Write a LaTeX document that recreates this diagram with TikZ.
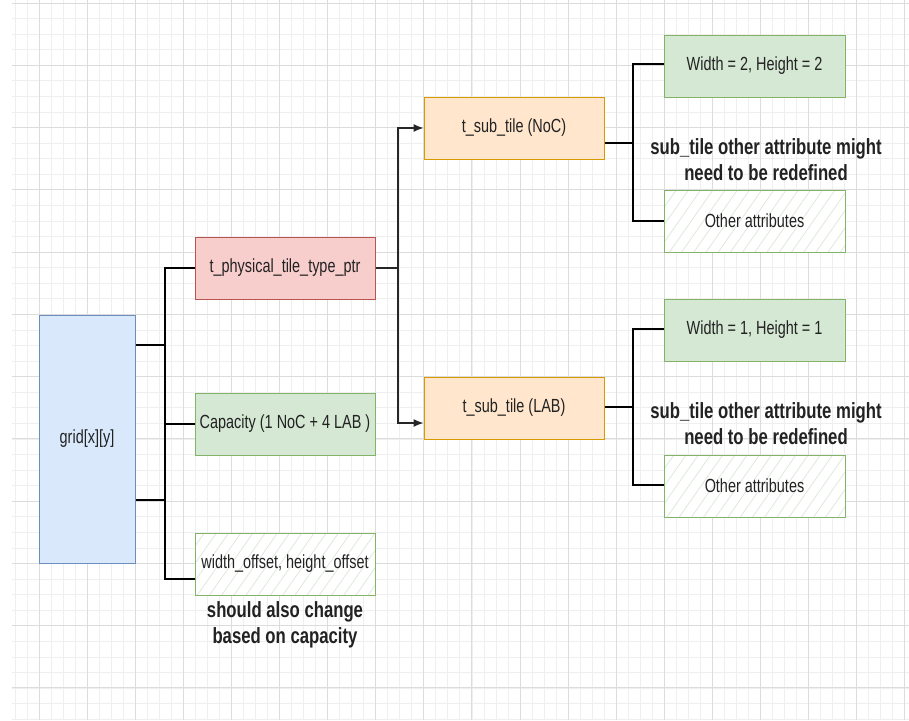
\documentclass[tikz,border=0pt]{standalone}
\usepackage{fontspec}
\setmainfont{Liberation Sans}
\newfontfamily\boxfont[FakeStretch=0.76]{Liberation Sans}
\usepackage{xcolor}
\usetikzlibrary{arrows.meta,patterns.meta,positioning,calc}

\definecolor{gridmajor}{HTML}{DCDCDC}
\definecolor{gridminor}{HTML}{EFEFEF}
\definecolor{bluefill}{HTML}{DAE8FC}
\definecolor{blueline}{HTML}{6C8EBF}
\definecolor{redfill}{HTML}{F8CECC}
\definecolor{redline}{HTML}{B85450}
\definecolor{greenfill}{HTML}{D5E8D4}
\definecolor{greenline}{HTML}{82B366}
\definecolor{orangefill}{HTML}{FFE6CC}
\definecolor{orangeline}{HTML}{D79B00}
\definecolor{hatchline}{HTML}{DCE6D8}
\definecolor{inktext}{HTML}{222222}

\tikzset{
  box/.style={rectangle,draw,line width=1pt,minimum width=180pt,minimum height=62pt,
    inner sep=0pt,text=inktext,font=\boxfont\fontsize{19}{22}\selectfont},
  bluebox/.style={box,fill=bluefill,draw=blueline},
  redbox/.style={box,fill=redfill,draw=redline},
  greenbox/.style={box,fill=greenfill,draw=greenline},
  orangebox/.style={box,fill=orangefill,draw=orangeline},
  hatchbox/.style={box,draw=greenline,preaction={fill=white},
    pattern={Lines[angle=55,distance=10pt,line width=0.7pt]},pattern color=hatchline},
  note/.style={align=center,text=inktext,inner sep=0pt,
    font=\boxfont\fontsize{22}{26}\selectfont\bfseries},
  tree/.style={line width=2.6pt,black},
  link/.style={line width=1.3pt,black!85,-{Latex[length=10pt,width=8pt]}}
}

\begin{document}
\begin{tikzpicture}[x=1pt,y=-1pt]
    \useasboundingbox (0,0) rectangle (909,720);
    \fill[white] (0,0) rectangle (909,720);

    % Background grid
    \begin{scope}
        \clip (12,0) rectangle (909,720);
        \foreach \i in {-3,...,75}
            \draw[gridminor,line width=0.8pt] ({39+12.025*\i},0) -- ({39+12.025*\i},720);
        \foreach \j in {0,...,46}
            \draw[gridminor,line width=0.8pt] (0,{3+15.57*\j}) -- (909,{3+15.57*\j});
        \foreach \i in {0,...,18}
            \draw[gridmajor,line width=1pt] ({39+48.1*\i},0) -- ({39+48.1*\i},720);
        \foreach \j in {0,...,11}
            \draw[gridmajor,line width=1pt] (0,{3+62.27*\j}) -- (909,{3+62.27*\j});
    \end{scope}

    % Grid cell
    \node[bluebox,minimum width=96pt,minimum height=248pt] (grid) at (87,439) {grid[x][y]};

    % Tile fields
    \node[redbox] (ptr) at (285,268) {t\_physical\_tile\_type\_ptr};
    \node[greenbox] (cap) at (285,424) {Capacity (1 NoC + 4 LAB )};
    \node[hatchbox] (offs) at (285,564) {width\_offset, height\_offset};
    \node[note] (offsnote) at (285,625) {should also change\\based on capacity};

    \coordinate (ja) at (165,345);
    \coordinate (jb) at (165,500);
    \draw[tree] (grid.east |- ja) -- (ja) |- (ptr.west);
    \draw[tree] (ja) -- (jb);
    \draw[tree] (jb) |- (cap.west);
    \draw[tree] (grid.east |- jb) -- (jb) |- ($(offs.west)+(0,15)$);

    % Sub tiles
    \node[orangebox] (noc) at (514,128) {t\_sub\_tile (NoC)};
    \node[orangebox] (lab) at (514,408) {t\_sub\_tile (LAB)};

    \coordinate (jc) at (398,268);
    \draw[line width=1.3pt,black!85] (ptr.east) -- (jc);
    \draw[link] (jc) |- (noc.west);
    \draw[link] (jc) |- ($(lab.west)+(0,15)$);

    % NoC sub tile attributes
    \node[greenbox,minimum width=181pt] (wh2) at (754.5,66) {Width = 2, Height = 2};
    \node[hatchbox,minimum width=181pt] (oth1) at (754.5,221) {Other attributes};
    \node[note] (nocnote) at (766,160) {sub\_tile other attribute might\\need to be redefined};

    \coordinate (jd) at (633,143);
    \draw[tree] ($(noc.east)+(0,15)$) -- (jd) |- ($(wh2.west)+(0,-2)$);
    \draw[tree] (jd) |- (oth1.west);

    % LAB sub tile attributes
    \node[greenbox,minimum width=181pt] (wh1) at (754.5,330) {Width = 1, Height = 1};
    \node[hatchbox,minimum width=181pt] (oth2) at (754.5,486) {Other attributes};
    \node[note] (labnote) at (766,424) {sub\_tile other attribute might\\need to be redefined};

    \coordinate (je) at (633,407);
    \draw[tree] (lab.east |- je) -- (je) |- ($(wh1.west)+(0,-1)$);
    \draw[tree] (je) |- ($(oth2.west)+(0,-1)$);
\end{tikzpicture}
\end{document}
